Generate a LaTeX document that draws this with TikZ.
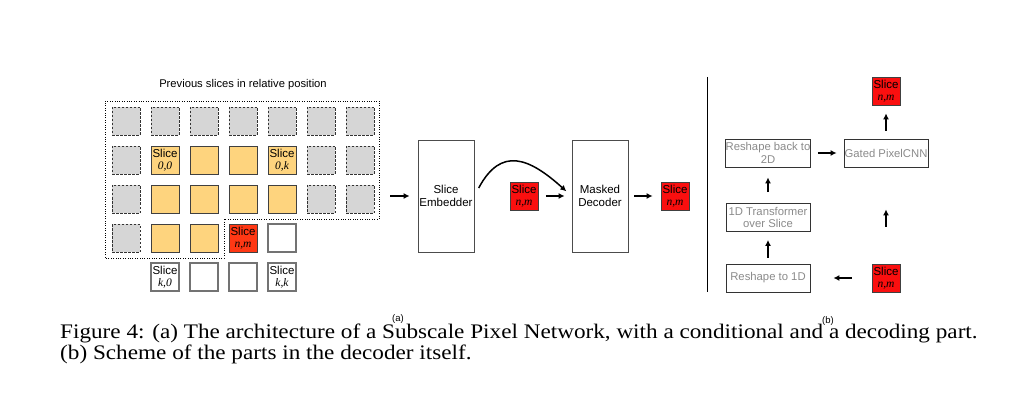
\documentclass[tikz,border=0pt]{standalone}
\usepackage{fontspec}
\setmainfont{Liberation Serif}
\setsansfont{Liberation Sans}
\usetikzlibrary{arrows.meta}

\definecolor{pastgray}{HTML}{D6D6D6}
\definecolor{ctxorange}{HTML}{FED47E}
\definecolor{curred}{HTML}{FF3814}
\definecolor{outred}{HTML}{FA0F0F}
\definecolor{parttext}{HTML}{8A8A8A}

\newcommand{\slicelab}[1]{Slice\\{\rmfamily\itshape #1}}

\begin{document}
\begin{tikzpicture}[x=1pt,y=-1pt,
	box/.style={minimum width=28pt, minimum height=28pt, inner sep=0pt, align=center, font=\sffamily\fontsize{11.5}{12}\selectfont},
	past/.style={box, fill=pastgray, draw=black!80, dash pattern=on 2.5pt off 1.5pt, line width=0.8pt},
	ctx/.style={box, fill=ctxorange, draw=black!75, line width=0.8pt},
	cur/.style={box, fill=curred, draw=black!75, line width=0.8pt},
	outslice/.style={box, fill=outred, draw=black!75, line width=0.8pt},
	fut/.style={box, fill=white, draw=black!55, line width=1.2pt},
	big/.style={draw=black!70, line width=0.9pt, minimum width=56pt, minimum height=112pt, inner sep=0pt, align=center, font=\sffamily\fontsize{11.5}{13.5}\selectfont},
	part/.style={draw=black!80, line width=0.8pt, minimum width=84pt, minimum height=28pt, inner sep=0pt, align=center, text=parttext, font=\sffamily\fontsize{11.3}{12.5}\selectfont},
	arr/.style={-{Latex[length=6pt,width=6pt]}, line width=1.5pt},
	captext/.style={anchor=base west, inner sep=0pt, xscale=1.12, transform shape, font=\rmfamily\fontsize{20.7}{22}\selectfont}
]
	\useasboundingbox (0,0) rectangle (1030,406);

	% (a) previous slices
	\node[font=\sffamily\fontsize{11.2}{12}\selectfont] (title) at (243,85) {Previous slices in relative position};
	\draw[line width=0.8pt, dash pattern=on 0.8pt off 1.6pt] (105,101) -- (379,101) -- (379,219) -- (224,219) -- (224,258) -- (105,258) -- cycle;

	\foreach \r/\cols in {1/{1,...,7}, 2/{1,6,7}, 3/{1,6,7}, 4/{1}}
		\foreach \c in \cols
			\node[past] (s\r\c) at ({126+39*(\c-1)},{121+39*(\r-1)}) {};
	\foreach \r/\cols in {2/{3,4}, 3/{2,...,5}, 4/{2,3}}
		\foreach \c in \cols
			\node[ctx] (s\r\c) at ({126+39*(\c-1)},{121+39*(\r-1)}) {};
	\foreach \r/\cols in {4/{5}, 5/{3,4}}
		\foreach \c in \cols
			\node[fut] (s\r\c) at ({126+39*(\c-1)},{121+39*(\r-1)}) {};

	\node[ctx] (s22) at (165,160) {\slicelab{0,0}};
	\node[ctx] (s25) at (282,160) {\slicelab{0,k}};
	\node[cur] (s44) at (243,238) {\slicelab{n,m}};
	\node[fut] (s52) at (165,277) {\slicelab{k,0}};
	\node[fut] (s55) at (282,277) {\slicelab{k,k}};

	% (a) embedder and decoder
	\coordinate (gridout) at (390,196);
	\node[big] (emb) at (446,196) {Slice\\Embedder};
	\node[outslice] (mid) at (524,196) {\slicelab{n,m}};
	\node[big] (dec) at (600,196) {Masked\\Decoder};
	\node[outslice] (res) at (675,196) {\slicelab{n,m}};

	\draw[arr, shorten >=8pt] (gridout) -- (emb.west);
	\draw[arr, shorten <=9pt, shorten >=7pt] (emb.east) to[out=62, in=138, looseness=1.5] (dec.west);
	\draw[arr, shorten <=7.5pt, shorten >=7pt] (mid) -- (dec.west);
	\draw[arr, shorten <=6pt, shorten >=8pt] (dec.east) -- (res);

	\node[font=\sffamily\fontsize{9.5}{10}\selectfont] (laba) at (398,319) {(a)};

	% (b) decoder parts
	\draw[line width=0.8pt] (707,77) -- (707,292);

	\node[part] (rs1) at (768,278) {Reshape to 1D};
	\node[part] (tr) at (768,217.5) {1D Transformer\\over Slice};
	\node[part] (rs2) at (768,153) {Reshape back to\\2D};
	\node[part] (pcnn) at (886,153) {Gated PixelCNN};
	\node[outslice] (inb) at (886,278) {\slicelab{n,m}};
	\node[outslice] (outb) at (886,91) {\slicelab{n,m}};

	\draw[arr, shorten <=20pt, shorten >=23pt] (inb) -- (rs1);
	\draw[arr, shorten <=6pt, shorten >=8pt] (rs1) -- (tr);
	\draw[arr, shorten <=11pt, shorten >=10pt] (tr) -- (rs2);
	\draw[arr, shorten <=7pt, shorten >=7pt] (rs2) -- (pcnn);
	\draw[arr, shorten <=37pt, shorten >=42pt] (inb) -- (pcnn);
	\draw[arr, shorten <=8pt, shorten >=8pt] (pcnn) -- (outb);

	\node[font=\sffamily\fontsize{9.5}{10}\selectfont] (labb) at (828,321) {(b)};

	% caption
	\node[captext] (cap1) at (60,338) {Figure 4: (a) The architecture of a Subscale Pixel Network, with a conditional and a decoding part.};
	\node[captext] (cap2) at (60,359.5) {(b) Scheme of the parts in the decoder itself.};
\end{tikzpicture}
\end{document}
